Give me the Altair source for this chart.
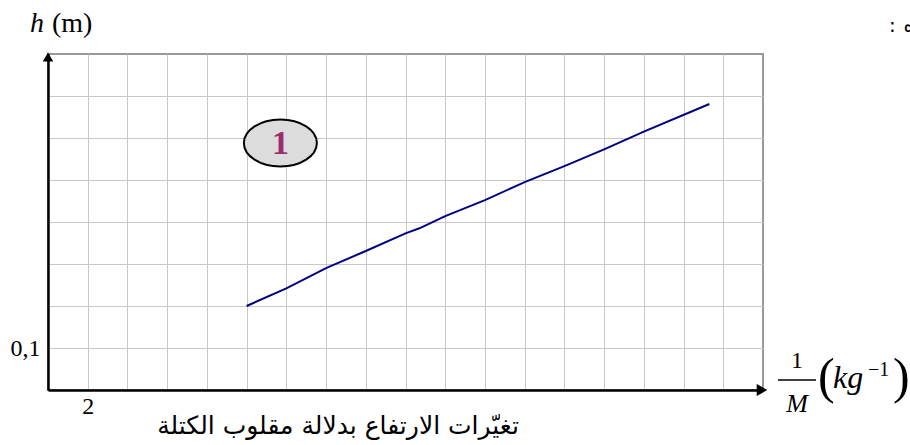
import altair as alt
import pandas as pd

# Measured height h (m) against inverse mass 1/M (kg^-1)
inv_mass = [10, 12, 14, 16, 18, 18.7, 20, 22, 24, 26, 28, 30, 33.3]
height_m = [0.200, 0.242, 0.290, 0.331, 0.373, 0.385, 0.414, 0.452, 0.495, 0.533, 0.573, 0.615, 0.681]

# Axis extents and grid steps
x_max, y_max = 36, 0.8
x_grid = list(range(2, 36, 2))
y_grid = [round(i * 0.1, 1) for i in range(1, 8)]

# Curve tag (ellipse with the number 1)
tag_x, tag_y, tag_text = [11.7], [0.588], ["1"]

title_ar = "تغيّرات  الارتفاع بدلالة مقلوب الكتلة"
serif = "Liberation Serif, Times New Roman, serif"

W, H = 715, 336

df = pd.DataFrame({"x": inv_mass, "h": height_m})

xs = alt.Scale(domain=[0, x_max], nice=False, zero=False)
ys = alt.Scale(domain=[0, y_max], nice=False, zero=False)

x_axis = alt.Axis(values=x_grid, grid=True, gridColor="#c8c8c8", gridWidth=1,
                  ticks=False, domainColor="black", domainWidth=2.5, title=None,
                  labelExpr="datum.value == 2 ? '2' : ''", labelFont=serif,
                  labelFontSize=24, labelColor="black", labelPadding=4)
y_axis = alt.Axis(values=y_grid, grid=True, gridColor="#c8c8c8", gridWidth=1,
                  ticks=False, domainColor="black", domainWidth=2.5, title=None,
                  labelExpr="abs(datum.value - 0.1) < 1e-6 ? '0,1' : ''",
                  labelFont=serif, labelFontSize=24, labelColor="black",
                  labelPadding=8)

curve = alt.Chart(df).mark_line(color="#000080", strokeWidth=2).encode(
    x=alt.X("x:Q", scale=xs, axis=x_axis),
    y=alt.Y("h:Q", scale=ys, axis=y_axis),
)

# Arrow heads at the ends of both axes
up = alt.Chart(pd.DataFrame({"x": [0], "y": [y_max]})).mark_point(
    shape="triangle-up", size=110, filled=True, color="black", opacity=1, yOffset=3
).encode(x=alt.X("x:Q", scale=xs), y=alt.Y("y:Q", scale=ys))
right = alt.Chart(pd.DataFrame({"x": [x_max], "y": [0]})).mark_point(
    shape="triangle-right", size=150, filled=True, color="black", opacity=1, xOffset=-1
).encode(x=alt.X("x:Q", scale=xs), y=alt.Y("y:Q", scale=ys))

# Ellipse tag with number
ellipse = "M-1,0A1,0.644,0,1,1,1,0A1,0.644,0,1,1,-1,0Z"
tag_df = pd.DataFrame({"x": tag_x, "y": tag_y, "t": tag_text})
tag_shape = alt.Chart(tag_df).mark_point(
    shape=ellipse, size=73 * 73, filled=True, fill="#dcdcdc", stroke="black",
    strokeWidth=2, opacity=1
).encode(x=alt.X("x:Q", scale=xs), y=alt.Y("y:Q", scale=ys))
tag_label = alt.Chart(tag_df).mark_text(
    font=serif, fontSize=34, fontWeight="bold", color="#9b2d6b", baseline="middle", dy=1
).encode(x=alt.X("x:Q", scale=xs), y=alt.Y("y:Q", scale=ys), text="t:N")


def label(txt, px, py, size, style="normal", align="left", font=serif, weight="normal"):
    return alt.Chart(pd.DataFrame({"t": [txt]})).mark_text(
        font=font, fontSize=size, fontStyle=style, fontWeight=weight, align=align,
        baseline="alphabetic", color="black"
    ).encode(x=alt.value(px), y=alt.value(py), text="t:N")


# Axis titles (positions relative to the plot origin)
texts = [
    label("h", -18, -22, 28, style="italic"),
    label("(m)", 4, -22, 28),
    label("1", 749, 314, 24, align="center"),
    label("M", 749, 358, 26, style="italic", align="center"),
    label("(", 770, 339, 50, weight="lighter"),
    label("kg", 785, 334, 32, style="italic"),
    label("−1", 820, 322, 20),
    label(")", 845, 339, 50, weight="lighter"),
    label(title_ar, 290, 380, 25, align="center", font="DejaVu Sans"),
    label(":", 841, -22, 20, font="DejaVu Sans"),
    label("ه", 866, -22, 20, align="right", font="DejaVu Sans"),
]

bar = alt.Chart(pd.DataFrame({"a": [0]})).mark_rule(color="black", strokeWidth=1.5).encode(
    x=alt.value(730), x2=alt.value(768), y=alt.value(326)
)

chart = alt.layer(curve, up, right, tag_shape, tag_label, bar, *texts).properties(
    width=W, height=H,
    autosize=alt.AutoSizeParams(type="none"),
    padding={"left": 48, "top": 54, "right": 910 - 48 - W, "bottom": 445 - 54 - H},
    background="white",
).configure_view(stroke="#999999", strokeWidth=2)

chart.save("out.html", embed_options={"renderer": "svg", "actions": False})
